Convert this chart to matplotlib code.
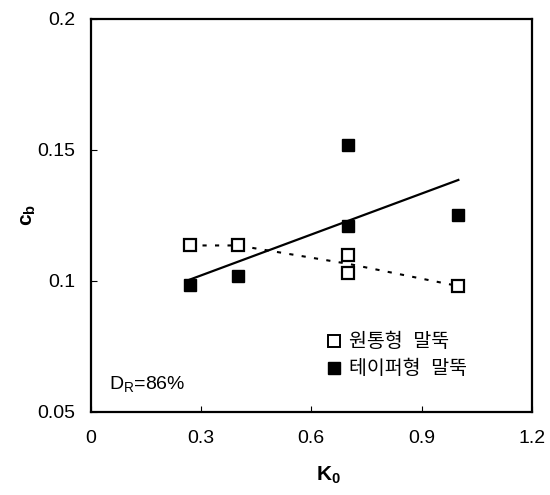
import matplotlib
matplotlib.use("Agg")
import matplotlib.pyplot as plt
from matplotlib.lines import Line2D

plt.rcParams['font.family'] = ['Liberation Sans', 'Noto Sans CJK KR']
plt.rcParams['mathtext.fontset'] = 'custom'
plt.rcParams['mathtext.rm'] = 'Liberation Sans'
plt.rcParams['mathtext.bf'] = 'Liberation Sans:bold'

# cylindrical piles (open squares)
k0_cyl = [0.27, 0.40, 0.70, 0.70, 1.00]
cb_cyl = [0.1135, 0.1135, 0.110, 0.103, 0.098]
# dotted line through the mean at each K0
k0_cyl_line = [0.27, 0.40, 0.70, 1.00]
cb_cyl_line = [0.1135, 0.1135, 0.1065, 0.098]

# tapered piles (filled squares)
k0_tap = [0.27, 0.40, 0.70, 0.70, 1.00]
cb_tap = [0.0985, 0.102, 0.152, 0.121, 0.125]
# linear trend for tapered piles
k0_trend = [0.27, 1.00]
cb_trend = [0.1005, 0.1385]

x_ticks = [0, 0.3, 0.6, 0.9, 1.2]
x_labels = ['0', '0.3', '0.6', '0.9', '1.2']
y_ticks = [0.05, 0.1, 0.15, 0.2]
y_labels = ['0.05', '0.1', '0.15', '0.2']
legend_labels = ['원통형  말뚝', '테이퍼형  말뚝']

fig = plt.figure(figsize=(5.5, 4.95), dpi=100)
ax = fig.add_axes([0.165, 0.168, 0.802, 0.794])

ax.plot(k0_cyl_line, cb_cyl_line, color='black', lw=1.5, linestyle=(0, (2, 4)))
ax.plot(k0_trend, cb_trend, color='black', lw=1.6)
ax.plot(k0_cyl, cb_cyl, linestyle='none', marker='s', ms=8,
        mfc='white', mec='black', mew=1.6)
ax.plot(k0_tap, cb_tap, linestyle='none', marker='s', ms=8,
        mfc='black', mec='black')

ax.set_xlim(0, 1.2)
ax.set_ylim(0.05, 0.2)
ax.set_xticks(x_ticks)
ax.set_xticklabels(x_labels)
ax.set_yticks(y_ticks)
ax.set_yticklabels(y_labels)
ax.tick_params(direction='in', length=4, width=0.8, labelsize=14)
ax.tick_params(axis='y', pad=11)
ax.tick_params(axis='x', pad=13)
for s in ax.spines.values():
    s.set_linewidth(1.6)

ax.set_xlabel(r'$\mathbf{K_0}$', fontsize=15)
ax.xaxis.set_label_coords(0.538, -0.135)
ax.set_ylabel(r'$\mathbf{c_b}$', fontsize=15)
ax.yaxis.set_label_coords(-0.12, 0.5)

ax.text(0.05, 0.0603, r'D$_\mathregular{R}$=86%', fontsize=14, va='center')

handles = [
    Line2D([], [], linestyle='none', marker='s', ms=8, mfc='white', mec='black', mew=1.4),
    Line2D([], [], linestyle='none', marker='s', ms=8, mfc='black', mec='black'),
]
ax.legend(handles, legend_labels, loc='upper left', bbox_to_anchor=(0.52, 0.22),
          frameon=False, handlelength=0.6, handletextpad=0.5, labelspacing=0.45,
          fontsize=14, borderaxespad=0)

fig.savefig('out.png', dpi=100)
